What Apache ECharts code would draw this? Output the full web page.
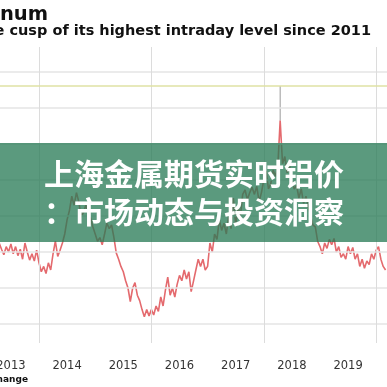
<!DOCTYPE html>
<html><head><meta charset="utf-8">
<script src="https://cdn.jsdelivr.net/npm/echarts@6/dist/echarts.min.js"></script>
<style>html,body{margin:0;padding:0;background:#fff}#c{width:387px;height:387px}</style>
</head><body><div id="c"></div>
<script>
const dates = [
'2013-04-16','2013-05-01','2013-05-16','2013-06-01','2013-06-16','2013-07-01','2013-07-16','2013-08-01','2013-08-16','2013-09-01','2013-09-16','2013-10-01','2013-10-16','2013-11-01','2013-11-16','2013-12-01','2013-12-16',
'2014-01-01','2014-01-16','2014-02-01','2014-02-16','2014-03-01','2014-03-16','2014-04-01','2014-04-16','2014-05-01','2014-05-16','2014-06-01','2014-06-16','2014-07-01','2014-07-16','2014-08-01','2014-08-16','2014-09-01','2014-09-16','2014-10-01','2014-10-16','2014-11-01','2014-11-16','2014-12-01','2014-12-16',
'2015-01-01','2015-01-16','2015-02-01','2015-02-16','2015-03-01','2015-03-16','2015-04-01','2015-04-16','2015-05-01','2015-05-16','2015-06-01','2015-06-16','2015-07-01','2015-07-16','2015-08-01','2015-08-16','2015-09-01','2015-09-16','2015-10-01','2015-10-16','2015-11-01','2015-11-16','2015-12-01','2015-12-16',
'2016-01-01','2016-01-16','2016-02-01','2016-02-16','2016-03-01','2016-03-16','2016-04-01','2016-04-16','2016-05-01','2016-05-16','2016-06-01','2016-06-16','2016-07-01','2016-07-16','2016-08-01','2016-08-16','2016-09-01','2016-09-16','2016-10-01','2016-10-16','2016-11-01','2016-11-16','2016-12-01','2016-12-16',
'2017-01-01','2017-01-16','2017-02-01','2017-02-16','2017-03-01','2017-03-16','2017-04-01','2017-04-16','2017-05-01','2017-05-16','2017-06-01','2017-06-16','2017-07-01','2017-07-16','2017-08-01','2017-08-16','2017-09-01','2017-09-16','2017-10-01','2017-10-16','2017-11-01','2017-11-16','2017-12-01','2017-12-16',
'2018-01-01','2018-01-16','2018-02-01','2018-02-16','2018-03-01','2018-03-16','2018-04-01','2018-04-16','2018-05-01','2018-05-16','2018-06-01','2018-06-16','2018-07-01','2018-07-16','2018-08-01','2018-08-16','2018-09-01','2018-09-16','2018-10-01','2018-10-16','2018-11-01','2018-11-16','2018-12-01','2018-12-16',
'2019-01-01','2019-01-16','2019-02-01','2019-02-16','2019-03-01','2019-03-16','2019-04-01','2019-04-16','2019-05-01','2019-05-16','2019-06-01','2019-06-16','2019-07-01','2019-07-16','2019-08-01','2019-08-16','2019-09-01','2019-09-16','2019-10-01','2019-10-16','2019-11-01','2019-11-16','2019-12-01','2019-12-16',
'2020-01-01','2020-01-16','2020-02-01','2020-02-16','2020-03-01'
];
const prices = [
1850,1815,1785,1830,1800,1845,1790,1830,1780,1815,1760,1850,1800,1755,1790,1750,1810,
1740,1690,1720,1680,1740,1700,1790,1860,1775,1810,1850,1900,1980,2030,2110,2060,2130,2080,1995,2020,2060,2020,1990,1940,
1900,1860,1880,1840,1900,1960,1930,1950,1880,1795,1760,1720,1690,1640,1600,1525,1600,1630,1560,1530,1480,1440,1480,1445,
1480,1450,1500,1470,1550,1500,1590,1660,1560,1600,1550,1620,1670,1640,1700,1650,1690,1580,1640,1700,1760,1720,1760,1700,
1720,1850,1800,1900,1870,1980,1920,1960,1900,2000,1930,2100,1950,2050,2000,2120,2145,2090,2130,2160,2120,2165,2080,2130,
2200,2250,2150,2180,2256,2220,2280,2530,2290,2330,2240,2280,2200,2150,2170,2100,2150,2070,2110,2050,2000,1950,1940,1860,
1830,1790,1850,1820,1870,1840,1875,1800,1830,1770,1790,1760,1830,1790,1825,1760,1790,1720,1760,1710,1750,1730,1790,1760,
1810,1830,1760,1720,1700
];
const spikeDate = '2018-04-16';
const spikeLow = 2530;
const spikeHigh = 2722;
const highLevel = 2722;
const yearLabels = [2013,2014,2015,2016,2017,2018,2019];
const gridPrices = [1400,1600,1800,2000,2200,2400,2600,2800];
const gridYears = [2014,2016,2018,2020];
const titleText = 'Aluminum';
const subtitleText = 'Aluminum is on the cusp of its highest intraday level since 2011';
const sourceText = 'Source: London Metal Exchange';
const bannerLines = ['上海金属期货实时铝价','：市场动态与投资洞察'];

function toYear(d){const p=d.split('-').map(Number);return p[0]+(p[1]-1)/12+(p[2]-1)/365;}
const lineData = dates.map((d,i)=>[toYear(d),prices[i]]);
const wickData = [[toYear(spikeDate),spikeLow],[toYear(spikeDate),spikeHigh]];

const chart = echarts.init(document.getElementById('c'));
const xMin = 2014 - 39/56.2, xMax = xMin + 387/56.2;
const yMin = 2800 - (343-72)/0.18, yMax = 2800 + (72-47)/0.18;
chart.setOption({
  animation:false,
  grid:{left:0,right:0,top:47,bottom:44,containLabel:false,outerBoundsMode:'none'},
  xAxis:{type:'value',min:xMin,max:xMax,
    axisLine:{show:false},axisTick:{show:false},splitLine:{show:false},
    axisLabel:{customValues:yearLabels.map(y=>y+0.5),formatter:v=>String(Math.floor(v)),
      margin:17,fontSize:11.5,color:'#333',fontFamily:'DejaVu Sans',hideOverlap:false}},
  yAxis:{type:'value',min:yMin,max:yMax,
    axisLine:{show:false},axisTick:{show:false},axisLabel:{show:false},splitLine:{show:false}},
  series:[
    {type:'line',data:lineData,symbol:'none',lineStyle:{color:'#e46a6e',width:1.6},z:3,
     markLine:{silent:true,symbol:'none',label:{show:false},animation:false,
       data:[
         ...gridPrices.map(p=>({yAxis:p,lineStyle:{color:'#e4e4e4',width:1.5,type:'solid'}})),
         ...gridYears.map(y=>({xAxis:y,lineStyle:{color:'#dcdcdc',width:1,type:'solid'}})),
         {yAxis:highLevel,lineStyle:{color:'#dfe2a4',width:1.5,type:'solid'}}
       ]}},
    {type:'line',data:wickData,symbol:'none',lineStyle:{color:'#9a9a9a',width:1},z:2}
  ],
  graphic:[
    {type:'text',x:48,y:15,style:{text:titleText,fontFamily:'DejaVu Sans',fontWeight:'bold',fontSize:19.5,fill:'#111',textAlign:'right',textVerticalAlign:'middle'}},
    {type:'text',x:371,y:31,style:{text:subtitleText,fontFamily:'DejaVu Sans',fontWeight:'bold',fontSize:14.5,fill:'#111',textAlign:'right',textVerticalAlign:'middle'}},
    {type:'text',x:28,y:380,style:{text:sourceText,fontFamily:'DejaVu Sans',fontWeight:'bold',fontSize:9,fill:'#111',textAlign:'right',textVerticalAlign:'middle'}},
    {type:'rect',shape:{x:0,y:143,width:387,height:99},style:{fill:'rgba(40,122,86,0.76)'},z:100},
    {type:'text',x:194,y:174,style:{text:bannerLines[0],fontFamily:'Noto Sans CJK SC',fontWeight:'bold',fontSize:30,fill:'#fff',textAlign:'center',textVerticalAlign:'middle'},z:101},
    {type:'text',x:194,y:212,style:{text:bannerLines[1],fontFamily:'Noto Sans CJK SC',fontWeight:'bold',fontSize:30,fill:'#fff',textAlign:'center',textVerticalAlign:'middle'},z:101}
  ]
});
</script></body></html>
